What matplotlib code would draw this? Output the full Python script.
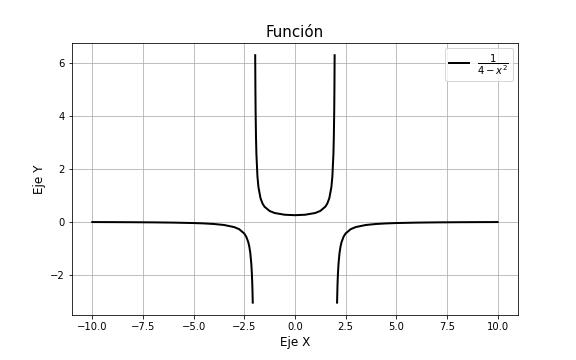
import matplotlib
matplotlib.use("Agg")
import matplotlib.pyplot as plt

# left branch (x < -2)
x_left = [-10, -9, -8, -7, -6, -5, -4.5, -4, -3.5, -3, -2.75, -2.5, -2.4,
          -2.3, -2.25, -2.2, -2.15, -2.12, -2.1, -2.08]
y_left = [-0.0104, -0.0130, -0.0167, -0.0222, -0.0313, -0.0476, -0.0615,
          -0.0833, -0.1212, -0.2, -0.2807, -0.4444, -0.5682, -0.7752,
          -0.9412, -1.1905, -1.6064, -2.0227, -2.439, -3.0637]

# middle branch (-2 < x < 2)
x_mid = [-1.96, -1.95, -1.94, -1.92, -1.9, -1.85, -1.8, -1.7, -1.6, -1.5,
         -1.25, -1, -0.5, 0, 0.5, 1, 1.25, 1.5, 1.6, 1.7, 1.8, 1.85, 1.9,
         1.92, 1.94, 1.95, 1.96]
y_mid = [6.313, 5.063, 4.230, 3.189, 2.564, 1.732, 1.316, 0.901, 0.694, 0.571,
         0.410, 0.333, 0.267, 0.25, 0.267, 0.333, 0.410, 0.571, 0.694, 0.901,
         1.316, 1.732, 2.564, 3.189, 4.230, 5.063, 6.313]

# right branch (x > 2)
x_right = [2.08, 2.1, 2.12, 2.15, 2.2, 2.25, 2.3, 2.4, 2.5, 2.75, 3, 3.5, 4,
           4.5, 5, 6, 7, 8, 9, 10]
y_right = [-3.0637, -2.439, -2.0227, -1.6064, -1.1905, -0.9412, -0.7752,
           -0.5682, -0.4444, -0.2807, -0.2, -0.1212, -0.0833, -0.0615,
           -0.0476, -0.0313, -0.0222, -0.0167, -0.0130, -0.0104]

fig = plt.figure(figsize=(8, 5), dpi=72)
ax = fig.add_axes([0.125, 0.125, 0.774, 0.756])

ax.plot(x_left, y_left, color="black", linewidth=2, label=r"$\dfrac{1}{4-x^2}$")
ax.plot(x_mid, y_mid, color="black", linewidth=2)
ax.plot(x_right, y_right, color="black", linewidth=2)

ax.set_title("Función", fontsize=15)
ax.set_xlabel("Eje X", fontsize=12)
ax.set_ylabel("Eje Y", fontsize=12)
ax.grid(True)
ax.set_axisbelow(True)
ax.legend(loc="upper right", fontsize=10)

fig.savefig("out.png", dpi=72)
